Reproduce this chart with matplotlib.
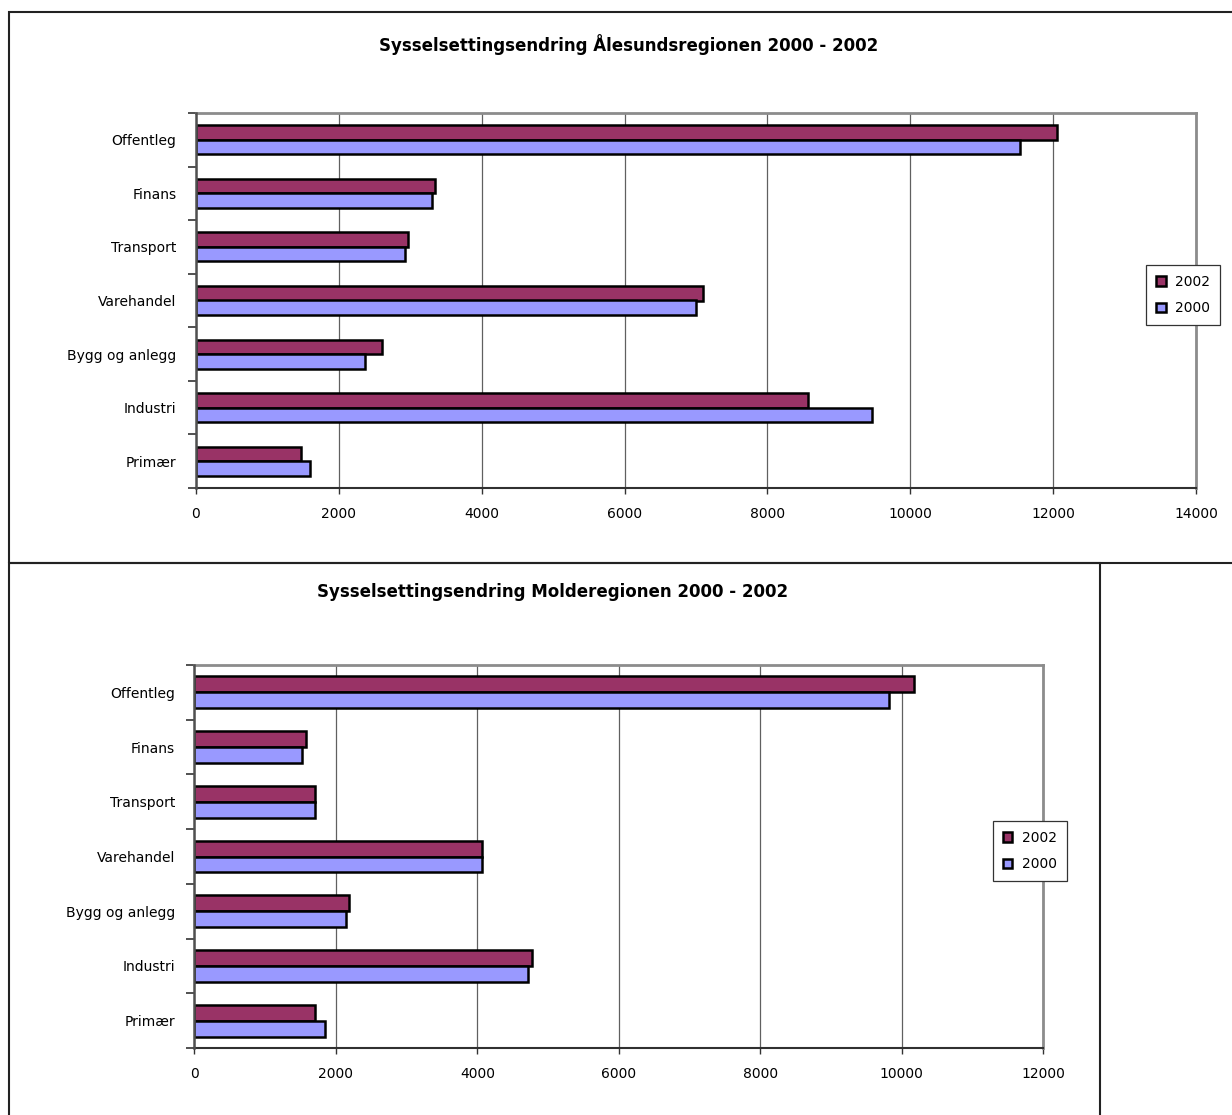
import matplotlib
matplotlib.use("Agg")
import matplotlib.pyplot as plt
from matplotlib.patches import Rectangle
import numpy as np

categories = ["Primær", "Industri", "Bygg og anlegg", "Varehandel", "Transport", "Finans", "Offentleg"]

alesund_2002 = [1470, 8570, 2600, 7100, 2970, 3350, 12060]
alesund_2000 = [1600, 9470, 2360, 7000, 2930, 3300, 11540]

molde_2002 = [1700, 4780, 2180, 4060, 1710, 1570, 10170]
molde_2000 = [1850, 4720, 2140, 4060, 1710, 1520, 9820]

series_labels = ["2002", "2000"]
color_2002 = "#993366"
color_2000 = "#9999FF"

title_top = "Sysselsettingsendring Ålesundsregionen 2000 - 2002"
title_bottom = "Sysselsettingsendring Molderegionen 2000 - 2002"

plt.rcParams["font.family"] = ["DejaVu Sans"]

W, H = 1232, 1115
fig = plt.figure(figsize=(W / 100, H / 100), dpi=100)


def fx(px):
    return px / W


def fy(py):
    return 1 - py / H


def draw_chart(rect, v2002, v2000, xmax, barh, title, title_xy, legend_xy):
    ax = fig.add_axes(rect)
    y = np.arange(len(categories))
    ax.barh(y + barh / 2, v2002, height=barh, color=color_2002, edgecolor="black",
            linewidth=1.8, label=series_labels[0], zorder=3)
    ax.barh(y - barh / 2, v2000, height=barh, color=color_2000, edgecolor="black",
            linewidth=1.8, label=series_labels[1], zorder=3)
    ax.set_xlim(0, xmax)
    ax.set_ylim(-0.5, len(categories) - 0.5)
    ax.set_xticks(np.arange(0, xmax + 1, 2000))
    ax.set_xticklabels([str(int(v)) for v in np.arange(0, xmax + 1, 2000)], fontsize=10)
    ax.set_yticks(y)
    ax.set_yticklabels(categories, fontsize=10)
    ax.set_yticks(np.arange(-0.5, len(categories), 1.0), minor=True)
    ax.tick_params(axis="y", which="major", length=0, pad=14)
    ax.tick_params(axis="y", which="minor", length=6, width=1.2, color="#333333", direction="out")
    ax.tick_params(axis="x", which="major", length=4, width=1.0, color="#333333", pad=10)
    ax.grid(axis="x", color="#606060", linewidth=0.9, zorder=0)
    ax.set_axisbelow(True)
    for s in ("top", "right"):
        ax.spines[s].set_color("#8c8c8c")
        ax.spines[s].set_linewidth(2.0)
    ax.spines["left"].set_color("#505050")
    ax.spines["left"].set_linewidth(1.8)
    ax.spines["bottom"].set_color("#303030")
    ax.spines["bottom"].set_linewidth(1.5)
    ax.spines["left"].set_zorder(4)
    fig.text(fx(title_xy[0]), fy(title_xy[1]), title, ha="center", va="center",
             fontsize=12, fontweight="bold")
    handles, labels = ax.get_legend_handles_labels()
    leg = fig.legend(handles=handles, labels=labels,
                     loc="center", bbox_to_anchor=(fx(legend_xy[0]), fy(legend_xy[1])),
                     fontsize=10, fancybox=False, framealpha=1, edgecolor="#333333",
                     handlelength=0.7, handleheight=0.7, handletextpad=0.7,
                     labelspacing=0.9, borderpad=0.7)
    leg.get_frame().set_linewidth(0.9)
    return ax


# Top chart
draw_chart([fx(196), fy(488), fx(1196) - fx(196), fy(113) - fy(488)],
           alesund_2002, alesund_2000, 14000, 0.27, title_top, (629, 45), (1183, 295))

# Bottom chart
draw_chart([fx(194.5), fy(1048), fx(1043) - fx(194.5), fy(665) - fy(1048)],
           molde_2002, molde_2000, 12000, 0.29, title_bottom, (553, 592), (1030, 851))

# Outer chart borders
fig.add_artist(Rectangle((fx(9), fy(563)), fx(1240) - fx(9), fy(12) - fy(563),
                         transform=fig.transFigure, fill=False, edgecolor="#222222",
                         linewidth=1.5))
fig.add_artist(Rectangle((fx(9), fy(1130)), fx(1100) - fx(9), fy(563) - fy(1130),
                         transform=fig.transFigure, fill=False, edgecolor="#222222",
                         linewidth=1.5))

fig.savefig("out.png", dpi=100)
